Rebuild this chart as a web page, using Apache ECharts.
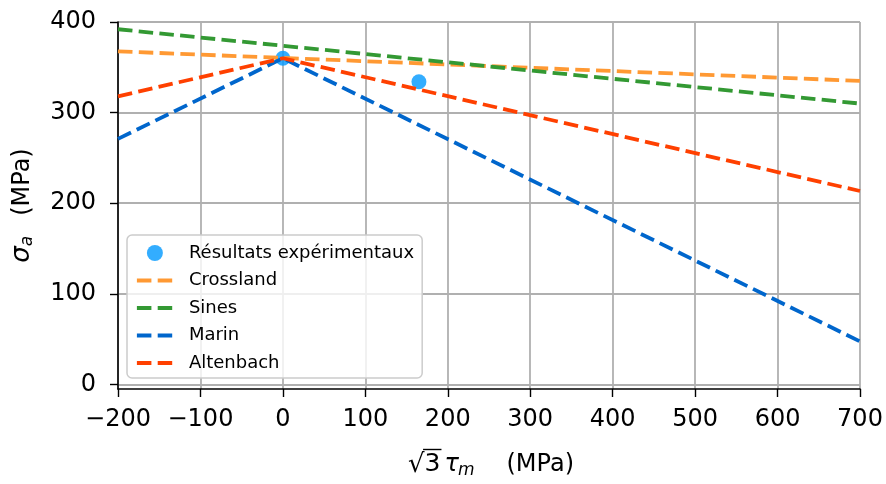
<!DOCTYPE html>
<html><head><meta charset="utf-8">
<script src="https://cdn.jsdelivr.net/npm/echarts@6/dist/echarts.min.js"></script>
<style>html,body{margin:0;padding:0;background:#fff}#c{width:886px;height:484px}</style>
</head><body><div id="c"></div>
<script>
const xTicks = [-200, -100, 0, 100, 200, 300, 400, 500, 600, 700];
const yTicks = [0, 100, 200, 300, 400];
const expX = [0, 165];
const expY = [360, 334];
const crosslandX = [-200, 700];
const crosslandY = [367.6, 335];
const sinesX = [-200, 700];
const sinesY = [392, 310];
const marinX = [-200, 0, 700];
const marinY = [271, 360, 47.5];
const altenbachX = [-200, 0, 700];
const altenbachY = [318, 360, 213.5];

const pairs = (xs, ys) => xs.map((x, i) => [x, ys[i]]);
const FONT = 'DejaVu Sans';
const dash = { type: [14.5, 6.3], width: 3.8 };
const mkLine = (name, xs, ys, color) => ({
  name, type: 'line', data: pairs(xs, ys), symbol: 'none', z: 3,
  lineStyle: Object.assign({ color }, dash), itemStyle: { color }
});
const fmt = v => v < 0 ? '\u2212' + Math.abs(v) : String(v);

// x-axis title pieces: √3 τ_m (MPa)
const ctx = document.createElement('canvas').getContext('2d');
const w = (t, f) => { ctx.font = f; return ctx.measureText(t).width; };
const fN = '24px "DejaVu Sans"', fR = '26px "DejaVu Sans"', f3 = '25px "DejaVu Sans"', fI = 'italic 24px "DejaVu Sans"', fS = 'italic 17px "DejaVu Sans"';
const parts = [
  { t: '\u221a', f: fR, dy: 1, gap: 0 },
  { t: '3', f: f3, dy: 0, gap: 4 },
  { t: '\u03c4', f: fI, dy: 0, gap: -1 },
  { t: 'm', f: fS, dy: 6.5, gap: 32 },
  { t: '(MPa)', f: fN, dy: 0, gap: 0 }
];
const widths = parts.map(p => w(p.t, p.f));
const total = parts.reduce((a, p, i) => a + widths[i] + p.gap, 0);
const cx = 491, midY = 464.5;
let xx = cx - total / 2;
const titleEls = [];
parts.forEach((p, i) => {
  titleEls.push({ type: 'text', x: xx, y: midY + p.dy,
    style: { text: p.t, font: p.f, fill: '#000', align: 'left', verticalAlign: 'middle' } });
  if (i === 1) {
    titleEls.push({ type: 'line', shape: { x1: xx - 1.5, y1: 449.5, x2: xx + widths[1] + 1, y2: 449.5 },
      style: { stroke: '#000', lineWidth: 1.4 } });
  }
  xx += widths[i] + p.gap;
});

const chart = echarts.init(document.getElementById('c'));
chart.setOption({
  animation: false,
  grid: { left: 118, right: 26, top: 22, bottom: 95 },
  xAxis: {
    type: 'value', min: -200, max: 700, interval: 100,
    axisLine: { show: true, onZero: false, lineStyle: { color: '#000', width: 1.6 } },
    axisTick: { show: true, length: 8, lineStyle: { color: '#000', width: 1.4 } },
    axisLabel: { formatter: fmt, color: '#000', fontFamily: FONT, fontSize: 24, margin: 19 },
    splitLine: { show: true, lineStyle: { color: '#b0b0b0', width: 1.8 } }
  },
  yAxis: {
    type: 'value', min: -5, max: 400,
    axisLine: { show: true, onZero: false, lineStyle: { color: '#000', width: 1.6 } },
    axisTick: { show: true, length: 8, customValues: yTicks, lineStyle: { color: '#000', width: 1.4 } },
    axisLabel: { customValues: yTicks, color: '#000', fontFamily: FONT, fontSize: 24, margin: 22 },
    splitLine: { show: true, customValues: yTicks, lineStyle: { color: '#b0b0b0', width: 1.8 } },
    name: '{i|σ}{sub|a}(MPa)', nameLocation: 'middle', nameGap: 82, nameRotate: 90,
    nameTextStyle: { color: '#000', fontFamily: FONT, fontSize: 24,
      rich: { i: { fontStyle: 'italic', fontFamily: FONT, fontSize: 26 },
              sub: { fontStyle: 'italic', fontFamily: FONT, fontSize: 17, padding: [10, 20, 0, 0] } } }
  },
  legend: {
    orient: 'vertical', left: 127, top: 235,
    backgroundColor: 'rgba(255,255,255,0.8)', borderColor: '#cccccc', borderWidth: 1.5, borderRadius: 5,
    padding: [9, 8, 6, 8], itemWidth: 36, itemHeight: 16, itemGap: 9.5,
    lineStyle: { type: [14.5, 6.3], width: 3.8 },
    textStyle: { fontFamily: FONT, fontSize: 18, color: '#000', padding: [0, 0, 0, 11] },
    data: [
      { name: 'Résultats expérimentaux' },
      { name: 'Crossland', itemStyle: { opacity: 0 } },
      { name: 'Sines', itemStyle: { opacity: 0 } },
      { name: 'Marin', itemStyle: { opacity: 0 } },
      { name: 'Altenbach', itemStyle: { opacity: 0 } }
    ]
  },
  graphic: titleEls,
  series: [
    { name: 'Résultats expérimentaux', type: 'scatter', data: pairs(expX, expY), symbol: 'circle', symbolSize: 15,
      itemStyle: { color: '#0099ff' }, z: 2 },
    mkLine('Crossland', crosslandX, crosslandY, '#ff9933'),
    mkLine('Sines', sinesX, sinesY, '#339933'),
    mkLine('Marin', marinX, marinY, '#0066cc'),
    mkLine('Altenbach', altenbachX, altenbachY, '#ff4000')
  ]
});
</script></body></html>
